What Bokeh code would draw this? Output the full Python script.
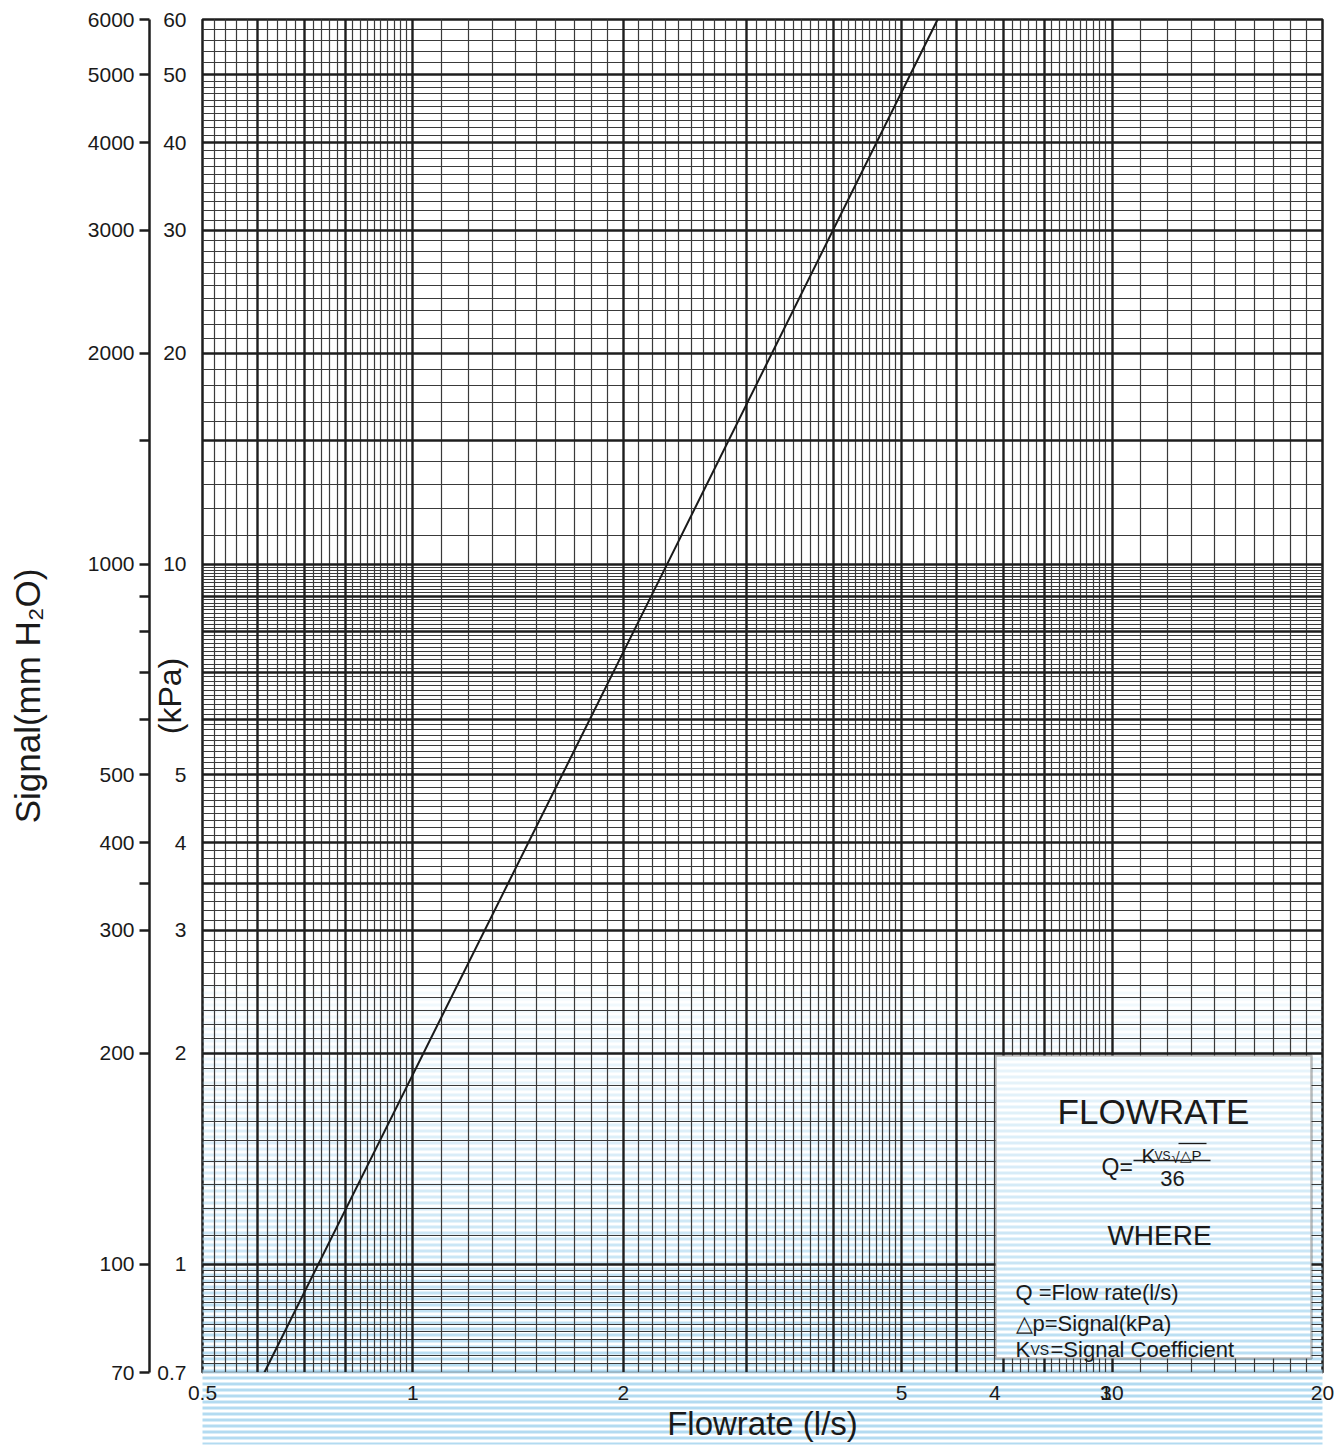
import numpy as np
from bokeh.plotting import figure
from bokeh.models import LogAxis, FixedTicker, Range1d, LogScale, Grid, BoxAnnotation, Label
from bokeh.embed import file_html
from bokeh.resources import INLINE

# ---------------- data ----------------
flowrate_ls = [0.613, 2.31, 5.63]          # Q (l/s)
signal_mm = [70, 1000, 6000]               # signal (mm H2O)

x_tick_values = [0.5, 1, 2, 5, 6.8, 9.8, 10, 20]
x_tick_labels = ["0.5", "1", "2", "5", "4", "3", "10", "20"]

mm_tick_values = [70, 100, 200, 300, 350, 400, 500, 600, 700, 800, 900, 1000,
                  1500, 2000, 3000, 4000, 5000, 6000]
mm_tick_labels = ["70", "100", "200", "300", "", "400", "500", "", "", "", "",
                  "1000", "", "2000", "3000", "4000", "5000", "6000"]

kpa_tick_values = [0.7, 1, 2, 3, 4, 5, 10, 20, 30, 40, 50, 60]
kpa_tick_labels = ["0.7", "1", "2", "3", "4", "5", "10", "20", "30", "40", "50", "60"]

# log-paper rulings
x_heavy = [0.6, 0.7, 0.8, 1, 2, 3, 4, 5, 6, 7, 8, 10]
y_heavy = [100, 200, 300, 350, 400, 500, 600, 700, 800, 900, 1000, 1500,
           2000, 3000, 4000, 5000]


def steps(a, b, s):
    return [round(float(v), 3) for v in np.arange(a + s, b - s / 2, s)]


x_fine = [v for v in steps(0.5, 1, 0.02) + steps(1, 5, 0.1) + steps(5, 10, 0.2)
          + steps(10, 20, 1) if v not in x_heavy]
y_fine = [v for v in steps(70, 100, 2) + steps(100, 1000, 10)
          + steps(1000, 5000, 100) + steps(5000, 6000, 200) if v not in y_heavy]

# ---------------- layout helpers (page pixels -> data) ----------------
W, H = 1344, 1449
FL, FR, FT, FB = 202, 1322, 19, 1372
X0, X1, Y0, Y1 = 0.5, 20, 70, 6000


def px2x(px):
    return 10 ** (np.log10(X0) + (px - FL) / (FR - FL) * np.log10(X1 / X0))


def px2y(py):
    return 10 ** (np.log10(Y0) + (FB - py) / (FB - FT) * np.log10(Y1 / Y0))


INK = "#1a1a1a"
FONT = "Liberation Sans"

p = figure(width=W, height=H, x_axis_type="log", y_axis_type="log",
           x_range=Range1d(X0, X1), y_range=Range1d(Y0, Y1),
           y_axis_location=None, output_backend="svg", toolbar_location=None,
           min_border_left=FL, min_border_right=W - FR,
           min_border_top=FT, min_border_bottom=H - FB,
           background_fill_color="white", border_fill_color="white",
           outline_line_color="#1e1e1e", outline_line_width=2.5)
p.grid.visible = False

p.extra_y_ranges = {"kpa": Range1d(0.7, 60)}
p.extra_y_scales = {"kpa": LogScale()}

# ---------------- background stripes ----------------
STRIPE = "#a6d5ef"
S_TOP, S_BOT = 985, 1449


def add_stripes(xl, xr, py_from, py_to, level):
    for top in range(S_TOP, S_BOT, 6):
        t, b = max(top, py_from), min(top + 3, py_to)
        if b <= t:
            continue
        a = 0.12 + 0.83 * (top - S_TOP) / (S_BOT - S_TOP)
        p.add_layout(BoxAnnotation(left=px2x(xl), right=px2x(xr), top=px2y(t),
                                   bottom=px2y(b), fill_color=STRIPE, fill_alpha=a,
                                   line_color=None, level=level))


add_stripes(-40, 1400, S_TOP, S_BOT, "guide")

# ---------------- grid ----------------
p.add_layout(Grid(dimension=0, ticker=FixedTicker(ticks=x_fine), grid_line_color="#3a3a3a",
                  grid_line_width=1.2, level="guide"))
p.add_layout(Grid(dimension=1, ticker=FixedTicker(ticks=y_fine), grid_line_color="#3a3a3a",
                  grid_line_width=1.2, level="guide"))
p.add_layout(Grid(dimension=0, ticker=FixedTicker(ticks=x_heavy), grid_line_color="#1e1e1e",
                  grid_line_width=2.4, level="guide"))
p.add_layout(Grid(dimension=1, ticker=FixedTicker(ticks=y_heavy), grid_line_color="#1e1e1e",
                  grid_line_width=2.4, level="guide"))

# ---------------- curve ----------------
p.line(flowrate_ls, signal_mm, line_color=INK, line_width=2, level="overlay")

# ---------------- formula box ----------------
LB = dict(left=px2x(995), right=px2x(1311), top=px2y(1055), bottom=px2y(1358))
p.add_layout(BoxAnnotation(**LB, fill_color="white", fill_alpha=1, line_color=None,
                           level="guide"))
add_stripes(996, 1310, 1056, 1357, "guide")
p.add_layout(BoxAnnotation(**LB, fill_color=None, line_color="#1e1e1e", line_width=2.5,
                           level="overlay"))


def add_text(txt, px, py, size, align="left", baseline="alphabetic"):
    p.add_layout(Label(x=px2x(px), y=px2y(py), text=txt, text_font_size=f"{size}px",
                       text_align=align, text_baseline=baseline, text_color=INK,
                       text_font=FONT, level="overlay"))


add_text("FLOWRATE", 1153, 1111, 35, align="center")
add_text("Q=", 1101, 1166, 23)
add_text("K", 1141, 1155, 21)
add_text("VS", 1154, 1155, 12)
add_text("√", 1171, 1157, 15)
add_text("△P", 1179, 1155, 15)
add_text("36", 1172, 1178, 22, align="center")
add_text("WHERE", 1159, 1235, 28, align="center")
add_text("Q  =Flow rate(l/s)", 1015, 1292, 22)
add_text("△p=Signal(kPa)", 1015, 1323, 22)
add_text("K", 1015, 1349, 22)
add_text("VS", 1030, 1349, 14)
add_text("=Signal Coefficient", 1050, 1349, 22)
p.segment(x0=[px2x(1133), px2x(1178)], y0=[px2y(1160), px2y(1143)],
          x1=[px2x(1210), px2x(1206)], y1=[px2y(1160), px2y(1143)],
          line_color=INK, line_width=1.3, level="overlay")

# ---------------- axes ----------------
kpa_axis = LogAxis(y_range_name="kpa",
                   ticker=FixedTicker(ticks=kpa_tick_values, minor_ticks=[]),
                   major_label_overrides=dict(zip(kpa_tick_values, kpa_tick_labels)),
                   axis_line_color=None, major_tick_line_color=None,
                   minor_tick_line_color=None, major_tick_out=0, major_tick_in=0,
                   minor_tick_out=0, minor_tick_in=0, major_label_standoff=16,
                   major_label_text_font_size="21px",
                   major_label_text_font=FONT, major_label_text_color=INK,
                   axis_label="(kPa)", axis_label_text_font_size="32px",
                   axis_label_text_font=FONT, axis_label_text_font_style="normal",
                   axis_label_text_color=INK, axis_label_standoff=-34, level="overlay")
mm_axis = LogAxis(ticker=FixedTicker(ticks=mm_tick_values, minor_ticks=[]),
                  major_label_overrides=dict(zip(mm_tick_values, mm_tick_labels)),
                  axis_line_color="#1e1e1e", axis_line_width=2.5,
                  major_tick_line_color="#1e1e1e", major_tick_line_width=2.5,
                  major_tick_out=10, major_tick_in=0, minor_tick_out=0, minor_tick_in=0,
                  minor_tick_line_color=None, major_label_standoff=5,
                  major_label_text_font_size="21px", major_label_text_font=FONT,
                  major_label_text_color=INK,
                  axis_label="Signal(mm H₂O)", axis_label_text_font_size="35px",
                  axis_label_text_font=FONT, axis_label_text_font_style="normal",
                  axis_label_text_color=INK, axis_label_standoff=38, level="overlay")
p.add_layout(kpa_axis, "left")
p.add_layout(mm_axis, "left")

xa = p.xaxis[0]
xa.ticker = FixedTicker(ticks=x_tick_values, minor_ticks=[])
xa.major_label_overrides = dict(zip(x_tick_values, x_tick_labels))
xa.axis_line_color = None
xa.major_tick_line_color = None
xa.minor_tick_line_color = None
xa.major_tick_out = 0
xa.major_tick_in = 0
xa.minor_tick_out = 0
xa.minor_tick_in = 0
xa.major_label_standoff = 13
xa.major_label_text_font_size = "21px"
xa.major_label_text_font = FONT
xa.major_label_text_color = INK
xa.axis_label = "Flowrate (l/s)"
xa.axis_label_text_font_size = "33px"
xa.axis_label_text_font = FONT
xa.axis_label_text_font_style = "normal"
xa.axis_label_text_color = INK
xa.axis_label_standoff = 2
xa.level = "overlay"

# striped band under the flow-rate scale (axis panel background)
props = xa.properties()
if "background_hatch_pattern" in props:
    xa.background_fill_color = "white"
    xa.background_hatch_pattern = "horizontal_line"
    xa.background_hatch_color = STRIPE
    xa.background_hatch_alpha = 0.85
    xa.background_hatch_scale = 6
    xa.background_hatch_weight = 3
elif "background_fill_color" in props:
    xa.background_fill_color = "#d9eff9"

open("out.html", "w").write(file_html(p, INLINE))
